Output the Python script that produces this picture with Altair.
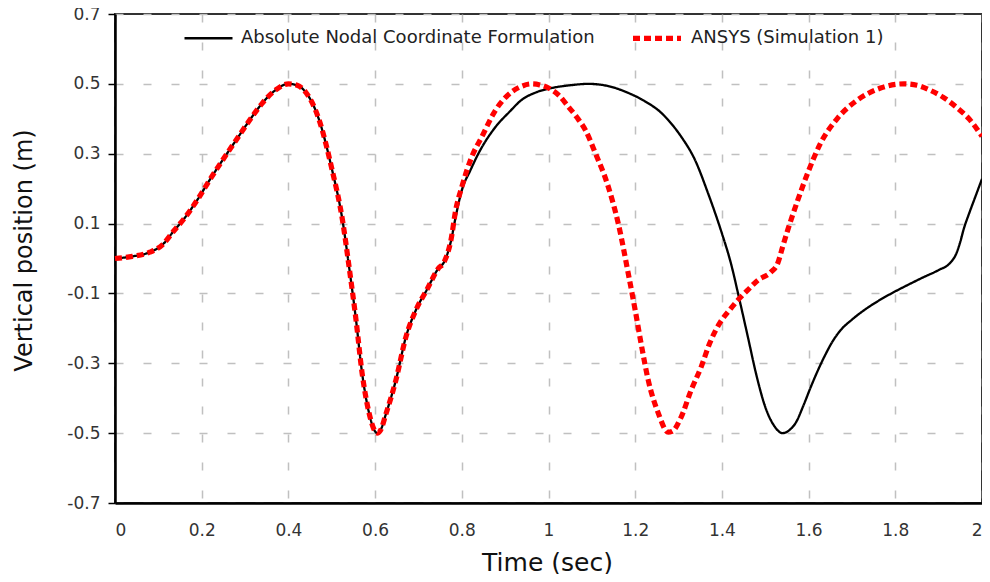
import altair as alt
import pandas as pd

LAB_A = "Absolute Nodal Coordinate Formulation"
LAB_B = "ANSYS (Simulation 1)"

# shared early part (both curves coincide up to ~0.76 s)
common_t = [0.00, 0.04, 0.08, 0.11, 0.135, 0.16, 0.19, 0.22, 0.25, 0.28, 0.31, 0.34, 0.37,
            0.40, 0.42, 0.44, 0.47, 0.50, 0.525, 0.54, 0.556, 0.57, 0.586, 0.60, 0.605,
            0.612, 0.625, 0.648, 0.671, 0.694, 0.72, 0.745, 0.76]
common_v = [0.000, 0.006, 0.018, 0.040, 0.078, 0.115, 0.168, 0.228, 0.285, 0.340, 0.395, 0.445, 0.482,
            0.500, 0.496, 0.476, 0.400, 0.258, 0.108, -0.024, -0.176, -0.328, -0.442, -0.495, -0.500,
            -0.493, -0.445, -0.348, -0.225, -0.148, -0.088, -0.030, -0.008]

ancf_t_tail = [0.775, 0.786, 0.80, 0.82, 0.839, 0.878, 0.91, 0.938, 0.97, 1.007, 1.05, 1.092,
               1.14, 1.184, 1.22, 1.261, 1.29, 1.306, 1.338, 1.368, 1.385, 1.40, 1.42, 1.44,
               1.46, 1.48, 1.50, 1.52, 1.54, 1.555, 1.57, 1.59, 1.605, 1.636, 1.655, 1.674,
               1.70, 1.728, 1.76, 1.797, 1.83, 1.866, 1.90, 1.927, 1.94, 1.95, 1.958, 1.97,
               1.985, 2.00]
ancf_v_tail = [0.050, 0.120, 0.195, 0.253, 0.302, 0.377, 0.420, 0.454, 0.475, 0.488, 0.496, 0.500,
               0.493, 0.474, 0.452, 0.416, 0.376, 0.349, 0.282, 0.187, 0.128, 0.072, -0.010, -0.115,
               -0.225, -0.336, -0.425, -0.478, -0.500, -0.492, -0.471, -0.415, -0.368, -0.282, -0.238, -0.205,
               -0.175, -0.148, -0.122, -0.096, -0.075, -0.053, -0.033, -0.012, 0.012, 0.048, 0.085, 0.128,
               0.178, 0.228]

ansys_t_tail = [0.775, 0.786, 0.80, 0.823, 0.846, 0.878, 0.915, 0.94, 0.961, 0.98, 1.00, 1.025,
                1.046, 1.065, 1.085, 1.108, 1.138, 1.161, 1.184, 1.20, 1.215, 1.23, 1.253, 1.276,
                1.285, 1.306, 1.329, 1.352, 1.372, 1.395, 1.418, 1.437, 1.46, 1.483, 1.513, 1.529,
                1.54, 1.552, 1.575, 1.598, 1.628, 1.667, 1.713, 1.766, 1.82, 1.85, 1.88, 1.91,
                1.943, 1.97, 2.00]
ansys_v_tail = [0.053, 0.139, 0.205, 0.291, 0.348, 0.425, 0.477, 0.494, 0.500, 0.497, 0.488, 0.466,
                0.434, 0.405, 0.368, 0.302, 0.205, 0.100, -0.043, -0.148, -0.253, -0.348, -0.442, -0.497,
                -0.495, -0.454, -0.377, -0.311, -0.242, -0.185, -0.147, -0.119, -0.090, -0.062, -0.039, -0.013,
                0.033, 0.082, 0.167, 0.245, 0.331, 0.402, 0.454, 0.488, 0.500, 0.496, 0.482, 0.462,
                0.431, 0.400, 0.350]

x_ticks = [0, 0.2, 0.4, 0.6, 0.8, 1.0, 1.2, 1.4, 1.6, 1.8, 2.0]
y_ticks = [-0.7, -0.5, -0.3, -0.1, 0.1, 0.3, 0.5, 0.7]

ancf_t = common_t + ancf_t_tail
ancf_v = common_v + ancf_v_tail
ansys_t = common_t + ansys_t_tail
ansys_v = common_v + ansys_v_tail

df = pd.concat([
    pd.DataFrame({"t": ancf_t, "v": ancf_v, "series": LAB_A, "k": 0}),
    pd.DataFrame({"t": ansys_t, "v": ansys_v, "series": LAB_B, "k": 1}),
], ignore_index=True)

FONT = "DejaVu Sans"
dom = [LAB_A, LAB_B]

legend = alt.Legend(
    title=None, orient="none", legendX=68, legendY=-3, direction="horizontal",
    symbolType="stroke", symbolSize=2304, labelFont=FONT, labelFontSize=18,
    labelColor="#222222", labelOffset=7, columnPadding=27, labelLimit=800, padding=0,
)

chart = alt.Chart(df).mark_line(interpolate="monotone", strokeCap="butt").encode(
    x=alt.X("t:Q", scale=alt.Scale(domain=[0, 2], nice=False, zero=False),
            axis=alt.Axis(values=x_ticks, format="~g", title="Time (sec)", ticks=False,
                          labelPadding=19, titleX=432, titleY=67, titleBaseline="alphabetic",
                          titleAnchor="middle", titleAlign="center")),
    y=alt.Y("v:Q", scale=alt.Scale(domain=[-0.7, 0.7], nice=False, zero=False),
            axis=alt.Axis(values=y_ticks,
                          labelExpr="datum.value < 0 ? '-' + format(-datum.value, '.1f') : format(datum.value, '.1f')",
                          title="Vertical position (m)", ticks=True, tickSize=7, tickColor="#000000",
                          tickWidth=1.5, labelPadding=8, titleX=-91, titleY=236, titleAngle=-90,
                          titleBaseline="middle", titleAlign="center")),
    color=alt.Color("series:N", scale=alt.Scale(domain=dom, range=["#000000", "#ff0000"]), legend=legend),
    strokeDash=alt.StrokeDash("series:N", scale=alt.Scale(domain=dom, range=[[1, 0], [7, 4]]), legend=legend),
    strokeWidth=alt.StrokeWidth("series:N", scale=alt.Scale(domain=dom, range=[2.3, 5.2]), legend=legend),
    order=alt.Order("k:Q"),
    detail="series:N",
).properties(
    width=867, height=489,
    autosize=alt.AutoSizeParams(type="none"),
    padding={"left": 107, "top": 6, "right": 0, "bottom": 71},
).configure_view(
    stroke="#333333", strokeWidth=2,
).configure_axis(
    grid=True, gridColor="#c0c0c0", gridDash=[8, 20], gridWidth=1.5,
    domainColor="#000000", domainWidth=2.5,
    labelFont=FONT, labelFontSize=17, labelColor="#333333",
    titleFont=FONT, titleFontWeight="normal", titleColor="#111111",
).configure_axisX(
    titleFontSize=25,
).configure_axisY(
    titleFontSize=24,
)

chart.save("out.html", embed_options={"renderer": "svg", "actions": False})
